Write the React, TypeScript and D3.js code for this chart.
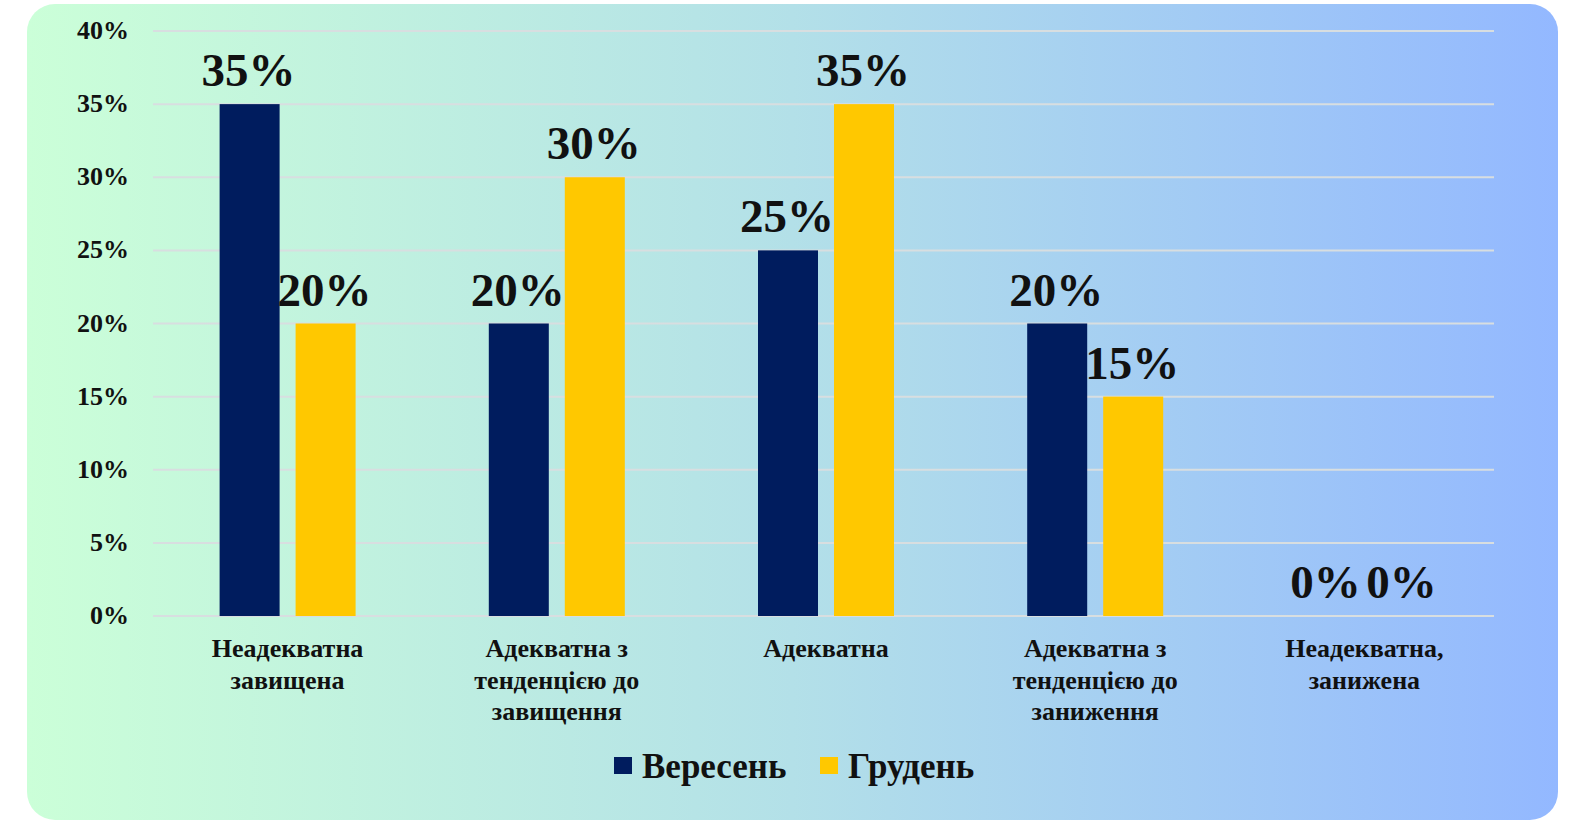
import React from "react";
import * as d3 from "d3";

const categories: string[][] = [
  ["Неадекватна", "завищена"],
  ["Адекватна з", "тенденцією до", "завищення"],
  ["Адекватна"],
  ["Адекватна з", "тенденцією до", "заниження"],
  ["Неадекватна,", "занижена"],
];
const series = ["Вересень", "Грудень"];
const september = [35, 20, 25, 20, 0];
const december = [20, 30, 35, 15, 0];
const yTicks = [0, 5, 10, 15, 20, 25, 30, 35, 40];
const colors = ["#001C5E", "#FFC800"];

const W = 1575;
const H = 821;
const FONT = "'Liberation Serif', 'Times New Roman', serif";

export default function App() {
  const x0 = d3
    .scaleBand<number>()
    .domain(d3.range(categories.length))
    .range([153, 1499])
    .paddingInner(0)
    .paddingOuter(0);
  const y = d3.scaleLinear().domain([0, 40]).range([616, 31]);
  const barW = 60;
  const gap = 16;
  const values = [september, december];

  return (
    <svg
      width={W}
      height={H}
      style={{ position: "absolute", left: 0, top: 0 }}
    >
      <defs>
        <linearGradient id="bg" x1="0" x2="1" y1="0" y2="0">
          <stop offset="0%" stopColor="#CBFFD8" />
          <stop offset="50%" stopColor="#B3E0E8" />
          <stop offset="100%" stopColor="#93B8FF" />
        </linearGradient>
      </defs>
      <rect x={27} y={4} width={1531} height={816} rx={28} ry={28} fill="url(#bg)" />
      {yTicks.map((t) => (
        <g key={t}>
          <line
            x1={153}
            x2={1494}
            y1={y(t)}
            y2={y(t)}
            stroke="#D8DEE0"
            strokeWidth={2}
          />
          <text
            x={129}
            y={y(t) + 8}
            textAnchor="end"
            fontFamily={FONT}
            fontWeight="bold"
            fontSize={26}
            fill="#111"
          >
            {t}%
          </text>
        </g>
      ))}
      {categories.map((cat, i) => {
        const cx = (x0(i) as number) + x0.bandwidth() / 2;
        return (
          <g key={i}>
            {values.map((vals, s) => {
              const bx = s === 0 ? cx - gap / 2 - barW : cx + gap / 2;
              const v = vals[i];
              return (
                <g key={s}>
                  <rect
                    x={bx}
                    y={y(v)}
                    width={barW}
                    height={y(0) - y(v)}
                    fill={colors[s]}
                  />
                  <text
                    x={bx + barW / 2 - 1}
                    y={y(v) - 18}
                    textAnchor="middle"
                    fontFamily={FONT}
                    fontWeight="bold"
                    fontSize={47}
                    fill="#111"
                  >
                    {v}%
                  </text>
                </g>
              );
            })}
            {cat.map((line, li) => (
              <text
                key={li}
                x={cx}
                y={657 + li * 31.5}
                textAnchor="middle"
                fontFamily={FONT}
                fontWeight="bold"
                fontSize={26}
                fill="#111"
              >
                {line}
              </text>
            ))}
          </g>
        );
      })}
      {series.map((s, i) => {
        const lx = i === 0 ? 614 : 820;
        return (
          <g key={s}>
            <rect x={lx} y={757} width={18} height={17} fill={colors[i]} />
            <text
              x={lx + 28}
              y={778}
              fontFamily={FONT}
              fontWeight="bold"
              fontSize={35}
              fill="#111"
            >
              {s}
            </text>
          </g>
        );
      })}
    </svg>
  );
}
